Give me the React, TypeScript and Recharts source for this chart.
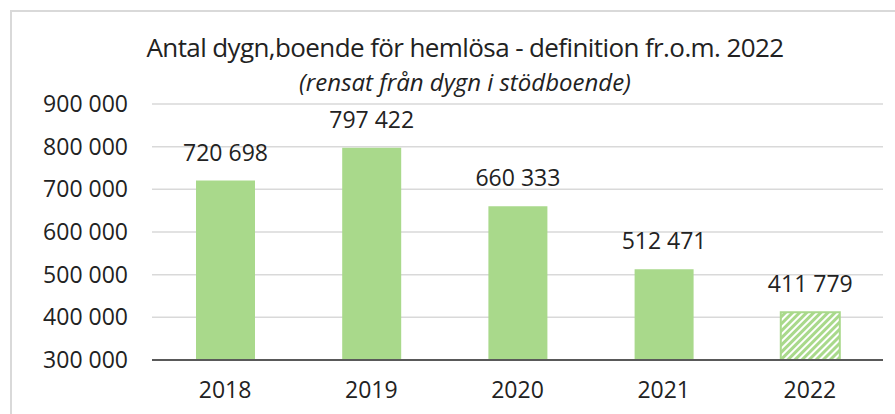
import React from 'react';
import { BarChart, Bar, XAxis, YAxis, CartesianGrid, Cell, LabelList } from 'recharts';

const years = ['2018', '2019', '2020', '2021', '2022'];
const nights = [720698, 797422, 660333, 512471, 411779];
const yTicks = [300000, 400000, 500000, 600000, 700000, 800000, 900000];

const green = '#a9d98b';
const font = '"Open Sans", sans-serif';
const textColor = '#222';

// space as thousands separator, like the Swedish original
const fmt = (v: number) => String(v).replace(/\B(?=(\d{3})+(?!\d))/g, ' ');

const data = years.map((year, i) => ({ year, value: nights[i] }));

const ValueLabel = (props: any) => {
  const { x, y, width, value } = props;
  return (
    <text x={x + width / 2} y={y - 20} textAnchor="middle" fill={textColor} fontSize={23} fontFamily={font}>
      {fmt(value)}
    </text>
  );
};

export default function App() {
  return (
    <div style={{ position: 'absolute', left: 0, top: 0, width: 895, height: 414, overflow: 'hidden', background: '#fff', fontFamily: font }}>
      <svg width={0} height={0} style={{ position: 'absolute' }}>
        <defs>
          <pattern id="hatch" patternUnits="userSpaceOnUse" width={5} height={5} patternTransform="rotate(45)">
            <rect width={5} height={5} fill="#fff" />
            <line x1={1.5} y1={0} x2={1.5} y2={5} stroke={green} strokeWidth={3} />
          </pattern>
        </defs>
      </svg>
      <div style={{ position: 'absolute', left: 10, top: 10, width: 1000, height: 600, border: '2px solid #d9d9d9', boxSizing: 'border-box' }} />
      <div style={{ position: 'absolute', left: 0, width: 930, top: 30, textAlign: 'center', fontSize: 26, color: textColor, letterSpacing: -0.6, lineHeight: '34px' }}>
        Antal dygn,boende för hemlösa - definition fr.o.m. 2022
      </div>
      <div style={{ position: 'absolute', left: 0, width: 930, top: 66, textAlign: 'center', fontSize: 24, fontStyle: 'italic', color: textColor, letterSpacing: 0, lineHeight: '32px' }}>
        (rensat från dygn i stödboende)
      </div>
      <BarChart
        width={895}
        height={414}
        data={data}
        margin={{ top: 104, right: 12, bottom: 24, left: 12 }}
        style={{ position: 'absolute', left: 0, top: 0 }}
      >
        <CartesianGrid vertical={false} stroke="#d9d9d9" strokeWidth={1.5} />
        <XAxis
          dataKey="year"
          height={30}
          tickLine={false}
          axisLine={{ stroke: '#595959', strokeWidth: 2 }}
          tickSize={0}
          tickMargin={22}
          tick={{ fill: textColor, fontSize: 23, fontFamily: font }}
        />
        <YAxis
          width={140}
          domain={[300000, 900000]}
          ticks={yTicks}
          interval={0}
          tickFormatter={fmt}
          axisLine={false}
          tickLine={false}
          tickSize={0}
          tickMargin={24}
          tick={{ fill: textColor, fontSize: 23, fontFamily: font }}
        />
        <Bar dataKey="value" barSize={59} isAnimationActive={false}>
          {data.map((d, i) => (
            <Cell
              key={d.year}
              fill={i === data.length - 1 ? 'url(#hatch)' : green}
              stroke={i === data.length - 1 ? green : 'none'}
              strokeWidth={i === data.length - 1 ? 2 : 0}
            />
          ))}
          <LabelList dataKey="value" content={ValueLabel} />
        </Bar>
      </BarChart>
    </div>
  );
}
